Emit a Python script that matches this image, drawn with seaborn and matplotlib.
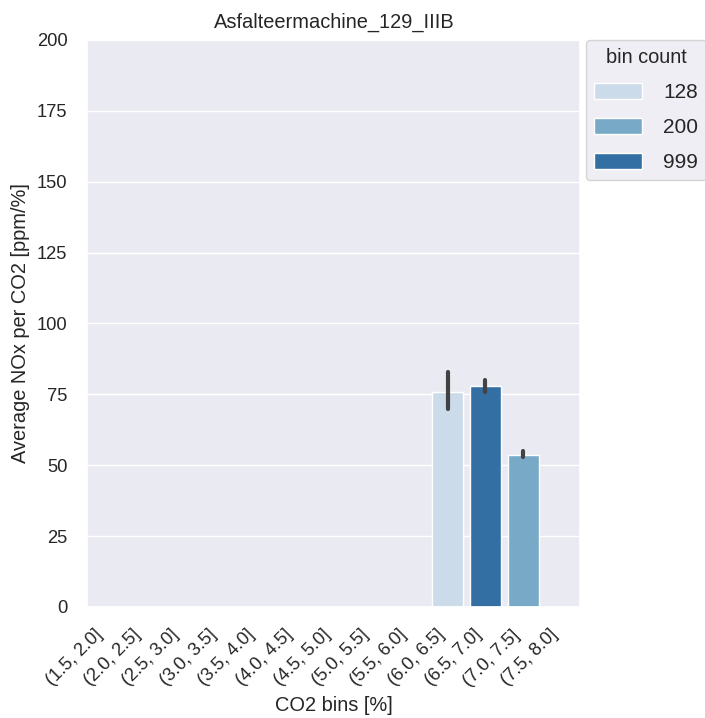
import matplotlib
matplotlib.use("Agg")
import matplotlib.pyplot as plt
import seaborn as sns
import pandas as pd

# Data
categories = ["(1.5, 2.0]", "(2.0, 2.5]", "(2.5, 3.0]", "(3.0, 3.5]", "(3.5, 4.0]",
              "(4.0, 4.5]", "(4.5, 5.0]", "(5.0, 5.5]", "(5.5, 6.0]", "(6.0, 6.5]",
              "(6.5, 7.0]", "(7.0, 7.5]", "(7.5, 8.0]"]
# raw samples per occupied bin (mean -> bar height, min/max -> error bar)
bin_6_0 = [70.0, 75.0, 83.0]
bin_6_5 = [76.0, 78.0, 80.0]
bin_7_0 = [53.0, 53.2, 55.0]
bin_labels = ["(6.0, 6.5]", "(6.5, 7.0]", "(7.0, 7.5]"]
bin_counts = [128, 999, 200]
hue_order = [128, 200, 999]

rows = []
for lab, cnt, vals in zip(bin_labels, bin_counts, [bin_6_0, bin_6_5, bin_7_0]):
    for v in vals:
        rows.append({"CO2 bins [%]": lab, "value": v, "bin count": cnt})
df = pd.DataFrame(rows)
df["CO2 bins [%]"] = pd.Categorical(df["CO2 bins [%]"], categories=categories)

sns.set_theme(style="darkgrid", font_scale=1.2)
plt.rcParams["font.family"] = ["Liberation Sans", "DejaVu Sans"]

fig = plt.figure(figsize=(7.05, 7.18), dpi=100)
ax = fig.add_axes([0.124, 0.1546, 0.699, 0.7897])

palette = sns.color_palette("Blues", 3)
sns.barplot(data=df, x="CO2 bins [%]", y="value", hue="bin count",
            hue_order=hue_order, order=categories, palette=palette,
            dodge=False, errorbar=("pi", 100), saturation=0.75,
            edgecolor="white", linewidth=1, err_kws={"linewidth": 3.0},
            ax=ax)

ax.set_ylim(0, 200)
ax.set_yticks(range(0, 201, 25))
ax.set_xlim(-0.5, len(categories) - 0.5)
ax.set_xlabel("CO2 bins [%]", labelpad=5)
ax.set_ylabel("Average NOx per CO2 [ppm/%]", labelpad=5)
ax.set_title("Asfalteermachine_129_IIIB", pad=9)
ax.tick_params(axis="y", pad=8.5)
ax.tick_params(axis="x", pad=8)
plt.setp(ax.get_xticklabels(), rotation=45, ha="right")

handles, labels = ax.get_legend_handles_labels()
ax.legend(handles, labels, title="bin count", loc="upper left",
          bbox_to_anchor=(1.012, 1.0), fontsize=15, title_fontsize=14.4,
          handlelength=2.3, handleheight=0.8, handletextpad=1.0,
          labelspacing=0.75, frameon=True, borderaxespad=0)

fig.savefig("out.png", dpi=100)
